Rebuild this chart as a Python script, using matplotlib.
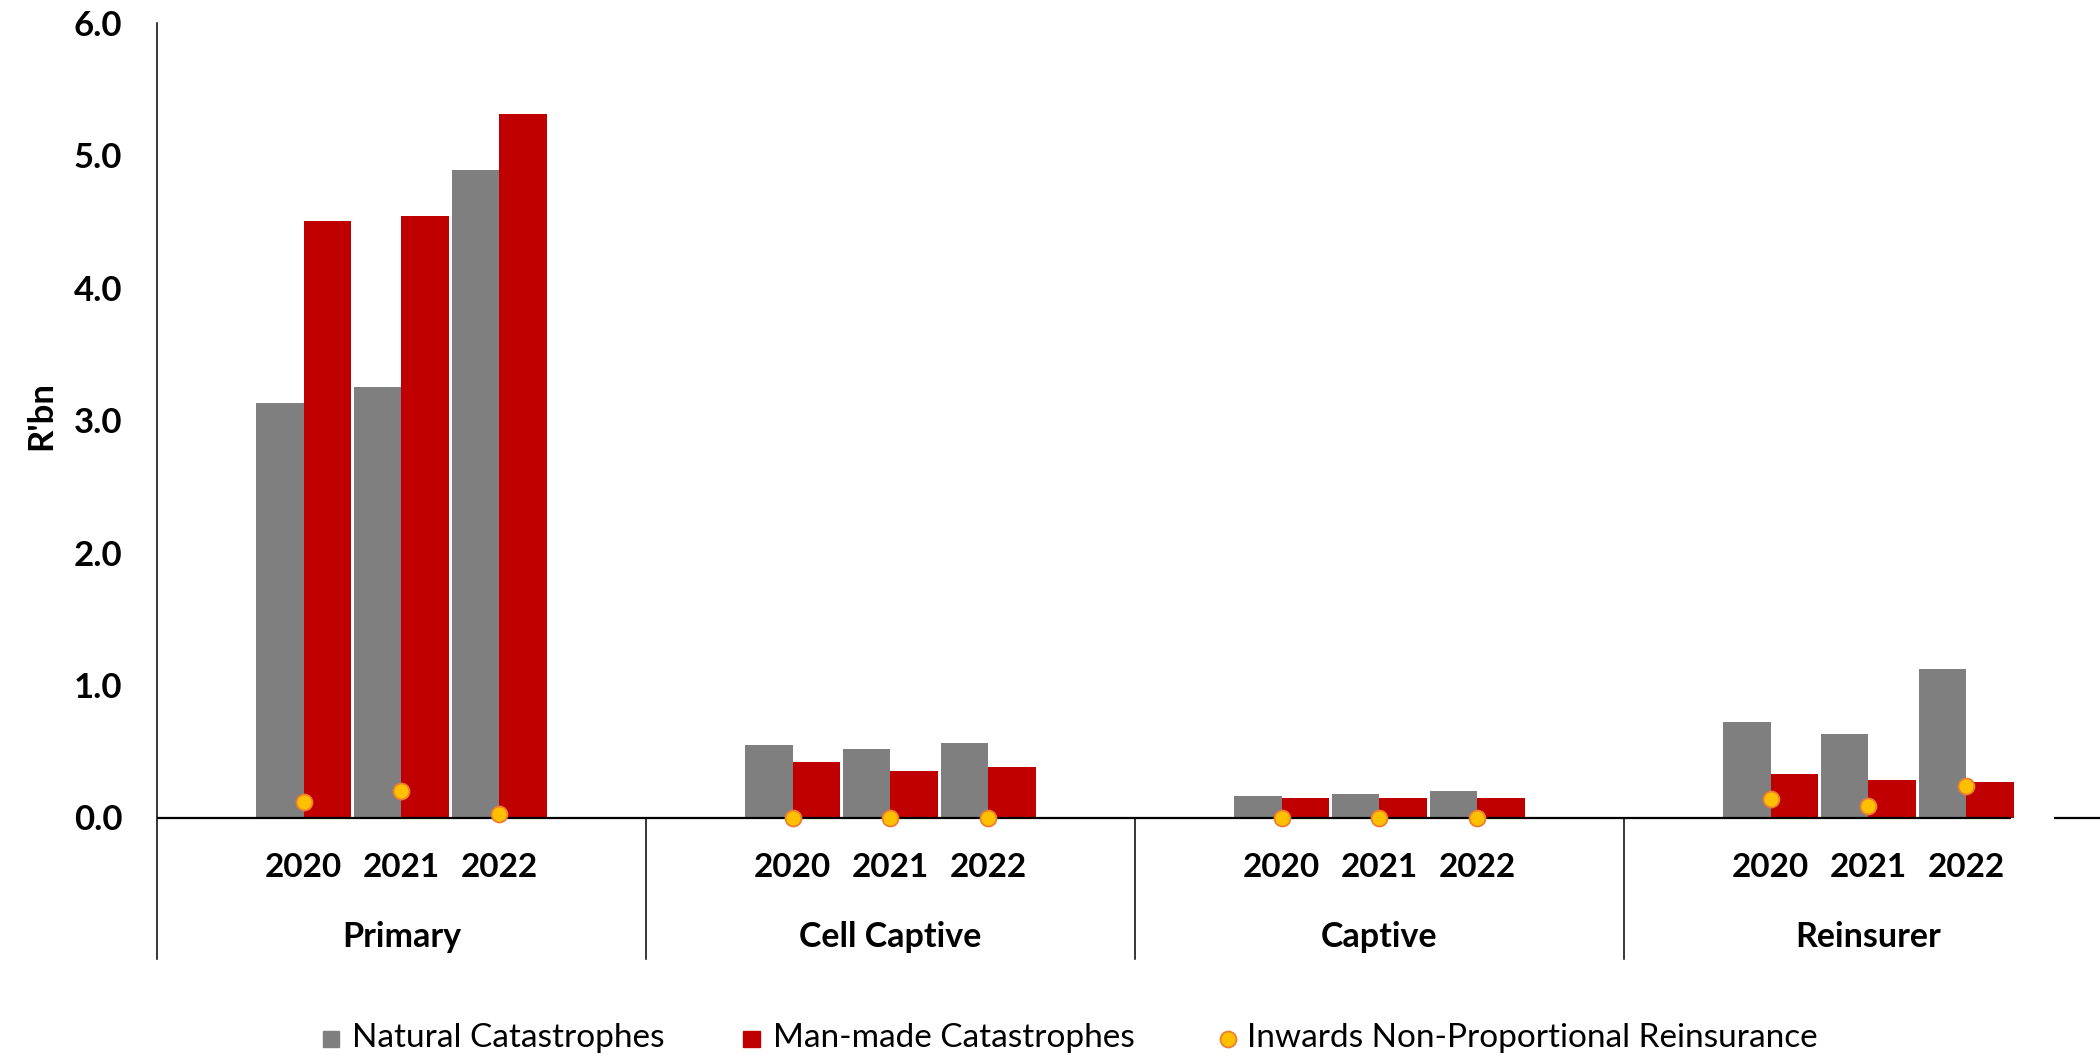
import matplotlib
matplotlib.use("Agg")
import matplotlib.pyplot as plt
from matplotlib.patches import Rectangle
from matplotlib.lines import Line2D
import numpy as np

# ---- data (R'bn) ----
groups = ["Primary", "Cell Captive", "Captive", "Reinsurer"]
years = ["2020", "2021", "2022"]
natural = [
    [3.13, 3.25, 4.89],
    [0.55, 0.52, 0.56],
    [0.16, 0.18, 0.20],
    [0.72, 0.63, 1.12],
]
man_made = [
    [4.50, 4.54, 5.31],
    [0.42, 0.35, 0.38],
    [0.15, 0.15, 0.15],
    [0.33, 0.28, 0.27],
]
inwards_np = [
    [0.12, 0.20, 0.03],
    [0.00, 0.00, 0.00],
    [0.00, 0.00, 0.00],
    [0.14, 0.09, 0.24],
]
y_ticks = [0.0, 1.0, 2.0, 3.0, 4.0, 5.0, 6.0]

series_names = ["Natural Catastrophes", "Man-made Catastrophes",
                "Inwards Non-Proportional Reinsurance"]

GRAY = "#7F7F7F"
RED = "#C00000"
DOT_FACE = "#FFC000"
DOT_EDGE = "#ED7D31"

FONT = "Lato"
plt.rcParams["font.family"] = [FONT, "DejaVu Sans"]

W, H = 2100, 1060
DPI = 100
fig = plt.figure(figsize=(W / DPI, H / DPI), dpi=DPI)

# axes geometry in pixels
x_left_px = 157.0
slot_px = 97.8
y_zero_px = 817.5
y_top_px = 22.5
y_bot_px = 959.0
unit_px = (y_zero_px - y_top_px) / 6.0
ymin = -(y_bot_px - y_zero_px) / unit_px

n_slots = 5 * len(groups)
ax = fig.add_axes([x_left_px / W, (H - y_bot_px) / H,
                   n_slots * slot_px / W, (y_bot_px - y_top_px) / H])
ax.set_xlim(0, n_slots)
ax.set_ylim(ymin, 6.0)

bar_w = 0.485
xs = []
for g in range(len(groups)):
    for k in range(len(years)):
        xs.append(g * 5 + k + 1.5)
xs = np.array(xs)
nat = np.array(natural).ravel()
man = np.array(man_made).ravel()
inw = np.array(inwards_np).ravel()

ax.bar(xs - bar_w / 2, nat, width=bar_w, color=GRAY, zorder=2)
ax.bar(xs + bar_w / 2, man, width=bar_w, color=RED, zorder=2)

# zero baseline (with its small break near the right end)
ax.plot([0, 18.96], [0, 0], color="black", lw=1.6, zorder=3,
        solid_capstyle="butt")
ax.plot([19.40, n_slots], [0, 0], color="black", lw=1.6, zorder=3,
        solid_capstyle="butt")

ax.plot(xs, inw, linestyle="none", marker="o", markersize=11.5,
        markerfacecolor=DOT_FACE, markeredgecolor=DOT_EDGE,
        markeredgewidth=1.3, zorder=4, clip_on=False)

# group separators on the category axis
for g in range(1, len(groups) + 1):
    ax.plot([g * 5, g * 5], [0, ymin], color="black", lw=1.1,
            zorder=3, clip_on=False)

# spines / ticks
for side in ["top", "right", "bottom"]:
    ax.spines[side].set_visible(False)
ax.spines["left"].set_linewidth(1.1)
ax.spines["left"].set_bounds(ymin, 6.0)
ax.set_xticks([])
ax.set_yticks(y_ticks)
ax.set_yticklabels([f"{v:.1f}" for v in y_ticks])
ax.tick_params(axis="y", length=0, pad=25, labelsize=25)
for lab in ax.get_yticklabels():
    lab.set_fontweight("bold")
    lab.set_fontfamily(FONT)

# year and group labels
year_base = -(877.3 - y_zero_px) / unit_px
group_base = -(946.7 - y_zero_px) / unit_px
for x, k in zip(xs, [k for _ in groups for k in range(len(years))]):
    ax.text(x, year_base, years[k], ha="center", va="baseline",
            fontsize=24, fontweight="bold")
for g, name in enumerate(groups):
    ax.text(g * 5 + 2.5, group_base, name, ha="center", va="baseline",
            fontsize=24.5, fontweight="bold")

# y-axis title
fig.text(41.5 / W, 1 - 415 / H, "R'bn", rotation=90, ha="center",
         va="center", fontsize=25, fontweight="bold")

# legend
leg_base = 1 - 1047.3 / H
leg_mid = 1 - 1039.0 / H
sq = 16.7
fig.add_artist(Rectangle((322.7 / W, (H - 1047.3) / H), sq / W, sq / H,
                         transform=fig.transFigure, color=GRAY))
fig.add_artist(Rectangle((743.0 / W, (H - 1047.3) / H), sq / W, sq / H,
                         transform=fig.transFigure, color=RED))
fig.add_artist(Line2D([1228.0 / W], [leg_mid], transform=fig.transFigure,
                      marker="o", markersize=11.5, markerfacecolor=DOT_FACE,
                      markeredgecolor=DOT_EDGE, markeredgewidth=1.3))
for x0, name in zip([352.0, 773.0, 1247.0], series_names):
    fig.text(x0 / W, leg_base, name, ha="left", va="baseline", fontsize=24)

fig.savefig("out.png", dpi=DPI, facecolor="white")
